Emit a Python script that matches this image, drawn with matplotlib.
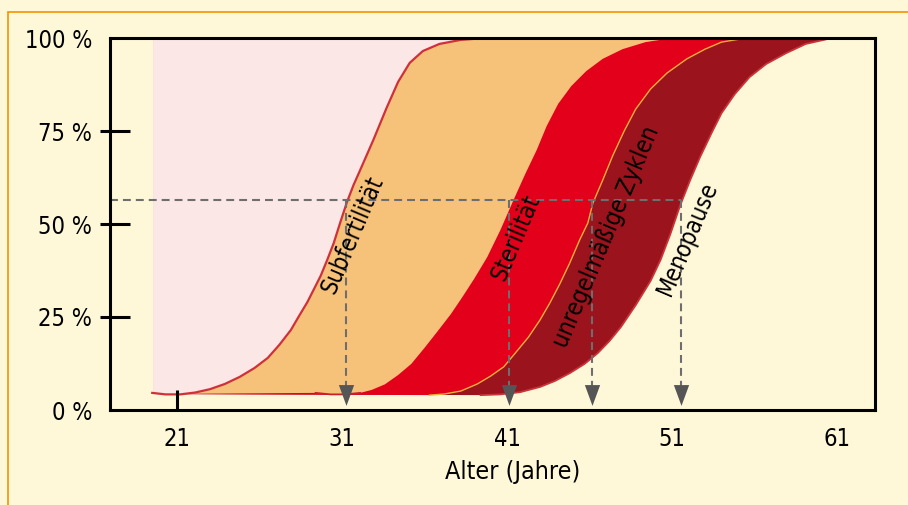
import numpy as np
import matplotlib.pyplot as plt
from matplotlib.patches import Rectangle

plt.rcParams['font.family'] = ['DejaVu Sans']
plt.rcParams['font.stretch'] = 'condensed'

# achsen
alter_ticks = [21, 31, 41, 51, 61]
prozent_ticks = [0, 25, 50, 75, 100]
prozent_labels = ['0 %', '25 %', '50 %', '75 %', '100 %']

# kurven (alter in jahren, anteil in %)
subf_alter = [19.5, 20.3, 21.2, 22.1, 23.0, 23.9, 24.8, 25.7, 26.5, 27.2, 27.9, 28.4, 28.9, 29.3, 29.7,
              30.1, 30.5, 30.9, 31.3, 31.7, 32.1, 32.9, 33.7, 34.4, 35.1, 35.9, 36.9, 38.2, 39.4]
subf_pct = [4.6, 4.2, 4.2, 4.7, 5.6, 7.0, 8.9, 11.3, 14.0, 17.5, 21.5, 25.3, 29.0, 32.5, 36.0,
            40.3, 44.9, 50.5, 55.9, 60.5, 64.5, 72.6, 81.2, 88.2, 93.3, 96.5, 98.4, 99.5, 99.9]

steril_alter = [29.4, 30.3, 31.2, 32.1, 32.8, 33.6, 34.4, 35.2, 36.0, 36.8, 37.6, 38.3, 39.0, 39.8, 40.6,
                41.4, 42.1, 42.8, 43.4, 44.1, 44.9, 45.8, 46.8, 48.0, 49.4, 50.6]
steril_pct = [4.6, 4.2, 4.2, 4.6, 5.4, 6.9, 9.4, 12.4, 16.7, 21.2, 25.8, 30.4, 35.2, 41.1, 48.4,
              56.5, 63.4, 69.9, 76.3, 82.3, 87.1, 91.1, 94.4, 97.0, 98.9, 99.7]

zyklen_alter = [36.3, 37.2, 38.2, 39.2, 40.0, 40.8, 41.5, 42.3, 43.0, 43.6, 44.2, 44.8, 45.4, 45.9, 46.2,
                46.8, 47.4, 48.1, 48.8, 49.7, 50.7, 51.9, 53.0, 54.0, 55.1]
zyklen_pct = [4.0, 4.3, 5.1, 7.0, 9.1, 11.6, 15.3, 19.6, 24.2, 28.8, 33.9, 39.5, 45.7, 50.3, 55.6,
              61.8, 68.3, 75.0, 80.9, 86.3, 90.6, 94.4, 97.0, 98.9, 99.7]

meno_alter = [39.4, 40.6, 41.8, 43.0, 43.9, 44.8, 45.7, 46.5, 47.2, 47.9, 48.8, 49.7, 50.3, 50.9, 51.5,
              52.1, 52.7, 53.4, 54.0, 54.8, 55.7, 56.7, 57.9, 59.1, 60.3]
meno_pct = [4.0, 4.2, 4.8, 6.2, 7.8, 9.9, 12.4, 15.3, 18.5, 22.3, 28.2, 34.7, 40.3, 47.3, 55.1,
            61.8, 68.0, 74.5, 79.8, 84.9, 89.5, 93.0, 95.9, 98.4, 99.6]

namen = ['Subfertilität', 'Sterilität', 'unregelmäßige Zyklen', 'Menopause']
pfeil_alter = [31.24, 41.12, 46.15, 51.55]
median_pct = 56.5
basis_pct = 4.3
start_alter = 19.55

bg = '#FEF8D8'
flaechen = ['#9B131C', '#E2001A', '#F6C27A', '#FBE7E6']

fig = plt.figure(figsize=(9.08, 5.05), dpi=100, facecolor=bg)
ax = fig.add_axes([110 / 908, 95 / 505, 765 / 908, 372 / 505])
ax.set_facecolor(bg)
ax.set_xlim(16.94, 63.3)
ax.set_ylim(0, 100)

# flaechen von rechts nach links uebereinander legen
kurven = [(meno_alter, meno_pct), (zyklen_alter, zyklen_pct),
          (steril_alter, steril_pct), (subf_alter, subf_pct)]
for (xs, ys), col in zip(kurven, flaechen):
    px = [start_alter, start_alter] + list(xs) + [xs[-1], start_alter]
    py = [100, basis_pct] + list(ys) + [100, 100]
    ax.fill(px, py, color=col, lw=0, zorder=1)

ax.plot(meno_alter, meno_pct, color='#C7343C', lw=1.3, zorder=2)
ax.plot(zyklen_alter, zyklen_pct, color='#F2B03A', lw=1.0, zorder=2)
ax.plot(steril_alter[:4], steril_pct[:4], color='#C8202C', lw=1.3, zorder=2)
ax.plot(subf_alter, subf_pct, color='#D0303A', lw=1.6, zorder=2)

# gestrichelte hilfslinien + pfeile
dash = (0, (3.8, 2.4))
ax.plot([ax.get_xlim()[0], pfeil_alter[-1]], [median_pct, median_pct], color='#6E6E6E', lw=1.5, ls=dash, zorder=3)
for xa in pfeil_alter:
    ax.plot([xa, xa], [median_pct, 6.2], color='#6E6E6E', lw=1.5, ls=dash, zorder=3)
ax.plot(pfeil_alter, [3.9] * len(pfeil_alter), ls='none',
        marker=[(-5.5, 7.5), (5.5, 7.5), (0, -7.5)], ms=15, color='#555555', mec='none', zorder=4)

# beschriftung der kurven
label_pos = [(31.67, 47.0), (41.55, 46.5), (47.0, 46.5), (51.97, 46.2)]
for name, (lx, ly) in zip(namen, label_pos):
    ax.text(lx, ly, name, rotation=67, ha='center', va='center', rotation_mode='anchor',
            fontsize=17, color='black', zorder=5)

# achsen
for s in ax.spines.values():
    s.set_linewidth(2.2)
    s.set_color('black')
    s.set_zorder(6)
ax.set_yticks(prozent_ticks, prozent_labels)
ax.set_xticks(alter_ticks)
ax.tick_params(axis='y', length=0, pad=13, labelsize=17)
ax.tick_params(axis='x', length=0, pad=12, labelsize=17)
ax.hlines(prozent_ticks[1:4], -10 / 765, 20 / 765, transform=ax.get_yaxis_transform(),
          color='black', lw=2.2, clip_on=False, zorder=6)
ax.vlines(alter_ticks[0], 0, 20 / 372, transform=ax.get_xaxis_transform(),
          color='black', lw=2.2, clip_on=False, zorder=6)
ax.set_xlabel('Alter (Jahre)', fontsize=18)
ax.xaxis.set_label_coords(0.526, -0.135)

# orangener rahmen
fig.add_artist(Rectangle((8 / 908, -0.5), 2, 0.5 + (505 - 12) / 505, fill=False,
                         edgecolor='#F39200', lw=1.2, transform=fig.transFigure))

fig.savefig('out.png', dpi=100, facecolor=bg)
